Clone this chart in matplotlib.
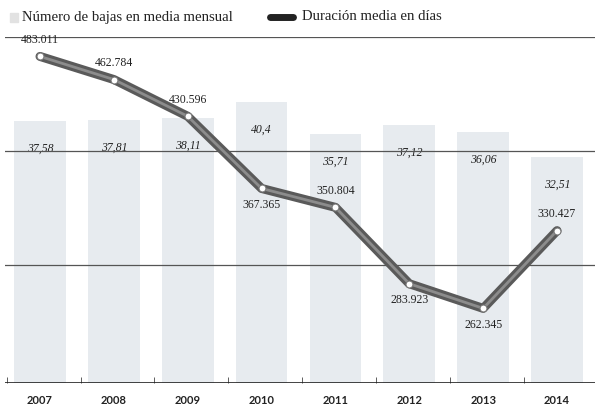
import numpy as np
import matplotlib.pyplot as plt
from matplotlib.ticker import FixedLocator

# data
years = ["2007", "2008", "2009", "2010", "2011", "2012", "2013", "2014"]
bajas = [483011, 462784, 430596, 367365, 350804, 283923, 262345, 330427]
dias = [37.58, 37.81, 38.11, 40.4, 35.71, 37.12, 36.06, 32.51]

# labels above (+1) or below (-1) the line points
bajas_side = [1, 1, 1, -1, 1, -1, -1, 1]


def miles(v):
    return f"{v:,}".replace(",", ".")


def coma(v):
    return f"{v:g}".replace(".", ",")


serif = "Liberation Serif"

fig = plt.figure(figsize=(5.95, 4.07), dpi=100)
ax = fig.add_axes([0.0084, 0.059, 0.9916, 0.850])
x = np.arange(len(years))

# -----------------------------
# bars: average duration in days
# -----------------------------
ax.bar(x, dias, width=0.7, color="#e7ebef", zorder=1)
ax.set_ylim(0, 49.7)
ax.set_xlim(-0.474, 7.514)
for xi, d in zip(x, dias):
    ax.annotate(coma(d), (xi, d), xytext=(0, -20), textcoords="offset points",
                ha="center", va="center", fontsize=8.5, family=serif,
                style="italic", color="#222222", zorder=5)

# -----------------------------
# line: monthly number of leaves
# -----------------------------
ax2 = ax.twinx()
ax2.set_ylim(197000, 500000)
for g in (300000, 400000, 500000):
    ax2.axhline(g, color="#555555", lw=0.9, zorder=0)
ax2.plot(x, bajas, color="#5a5a5a", lw=6.5, solid_capstyle="round",
         solid_joinstyle="round", zorder=3)
ax2.plot(x, bajas, color="#8c8c8c", lw=2, solid_joinstyle="round", zorder=3)
ax2.plot(x, bajas, "o", ms=5, mfc="white", mec="#777777", mew=0.8, zorder=4)
for xi, b, s in zip(x, bajas, bajas_side):
    ax2.annotate(miles(b), (xi, b), xytext=(0, 12 * s), textcoords="offset points",
                 ha="center", va="center", fontsize=8.5, family=serif,
                 color="#222222", zorder=5)

# axes styling
for a in (ax, ax2):
    for sp in ("top", "left", "right", "bottom"):
        a.spines[sp].set_visible(False)
ax2.set_yticks([])
ax.set_yticks([])
ax.axhline(0, color="#222222", lw=1.2, zorder=6)
ax.set_xticks(x)
ax.set_xticklabels(years, fontsize=8, fontweight="bold", color="#222222", family="Lato")
ax.tick_params(axis="x", length=0, pad=9)
ax.xaxis.set_minor_locator(FixedLocator(np.arange(-0.45, 7.5, 1.0)))
ax.tick_params(axis="x", which="minor", direction="in", length=4, color="#444444")

# -----------------------------
# legend drawn by hand
# -----------------------------
fig.patches.append(plt.Rectangle((10 / 595, 1 - 22 / 407), 8 / 595, 9 / 407,
                                 transform=fig.transFigure, color="#e2e2e2"))
fig.text(22 / 595, 1 - 17 / 407, "Número de bajas en media mensual", fontsize=10.6,
         family=serif, va="center", ha="left", color="#222222")
fig.lines.append(plt.Line2D([270 / 595, 293 / 595], [1 - 17 / 407, 1 - 17 / 407],
                            transform=fig.transFigure, color="#222222", lw=5,
                            solid_capstyle="round"))
fig.text(302 / 595, 1 - 17 / 407, "Duración media en días", fontsize=10.6,
         family=serif, va="center", ha="left", color="#222222")

fig.savefig("out.png", dpi=100)
